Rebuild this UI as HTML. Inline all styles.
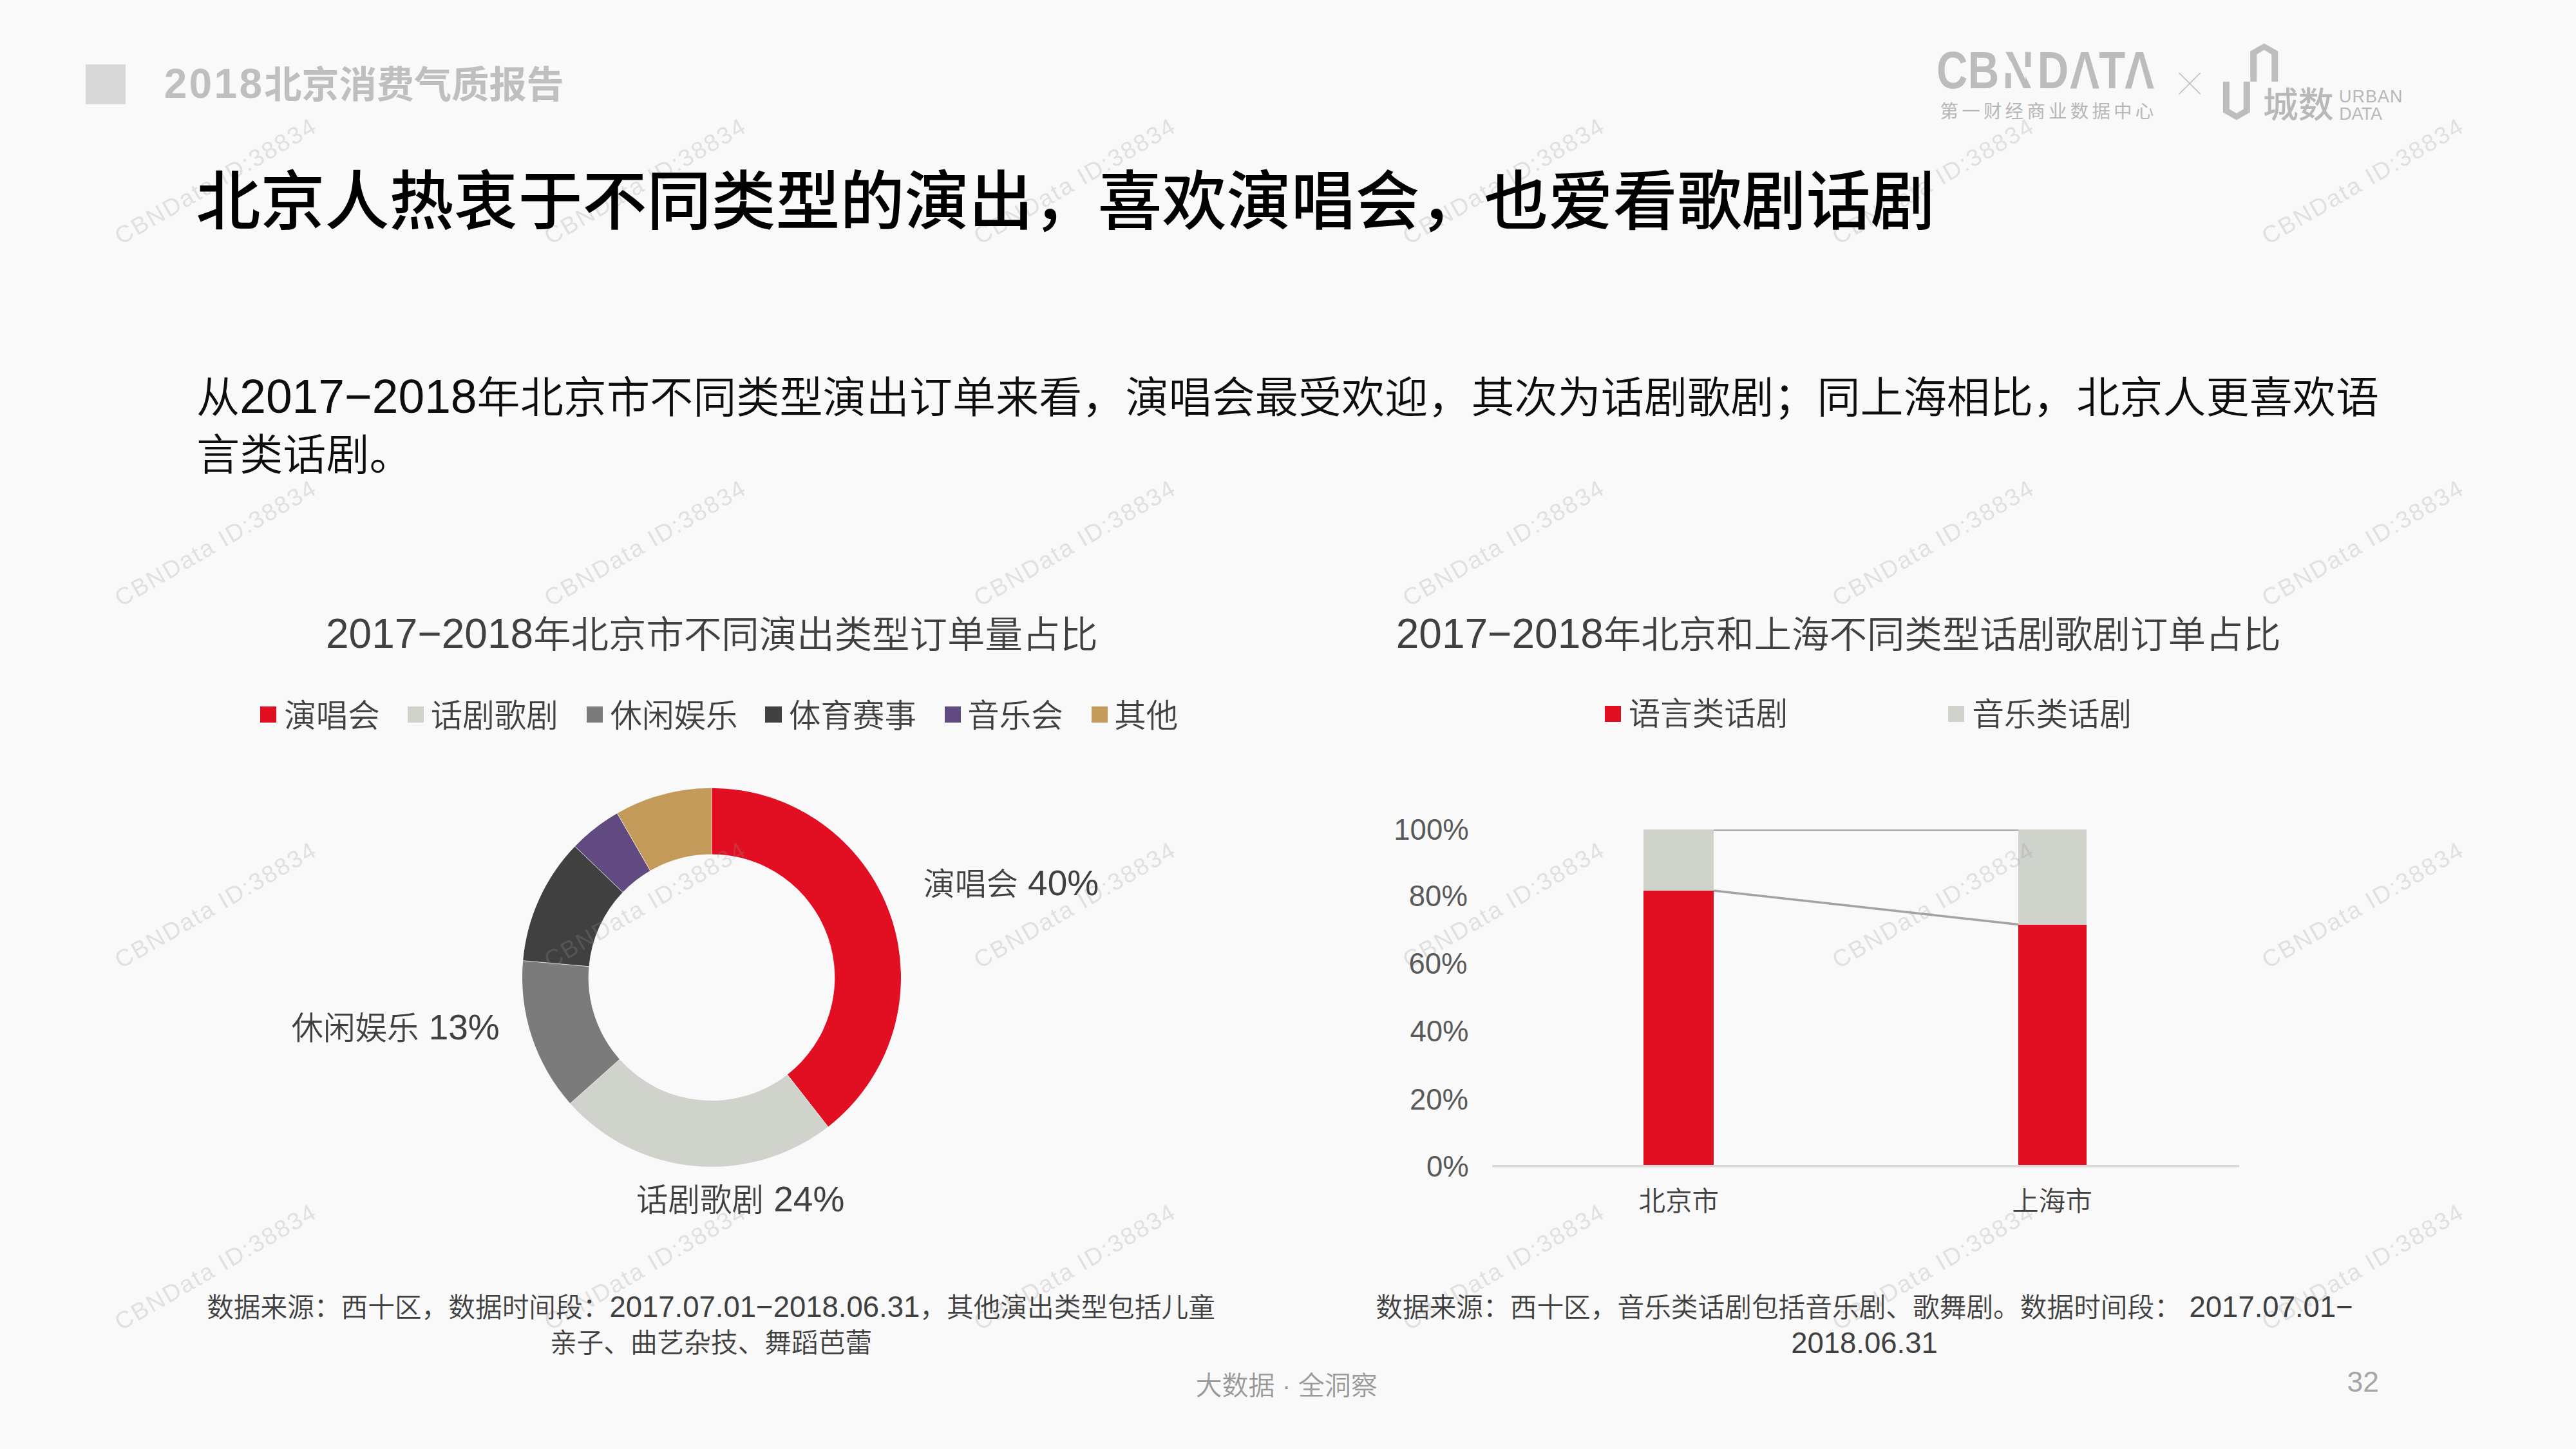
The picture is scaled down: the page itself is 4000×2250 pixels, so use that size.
<!DOCTYPE html>
<html lang="zh-CN">
<head>
<meta charset="utf-8">
<title>2018北京消费气质报告</title>
<style>
html,body{margin:0;padding:0;}
body{width:4000px;height:2250px;position:relative;overflow:hidden;background:#f9f9f9;
  font-family:"Liberation Sans","Noto Sans CJK SC",sans-serif;color:#000;}
.t{position:absolute;white-space:nowrap;line-height:1.2;}
.l{font-size:calc(var(--lat) * 1em);}
.wm{position:absolute;font-family:"Liberation Sans",sans-serif;font-weight:normal;font-size:37px;letter-spacing:2.4px;line-height:1;color:rgba(150,150,150,0.26);transform-origin:0 0;transform:rotate(-30deg);white-space:nowrap;}
.sh{position:absolute;}
.ln{font-weight:normal;}

</style>
</head>
<body>
<div class="sh" style="left:133px;top:100px;width:62px;height:62px;background:#d9d9d9;"></div>
<div class="sh" style="left:404px;top:1096.5px;width:25px;height:25px;background:#e20e21;"></div>
<div class="sh" style="left:633px;top:1096.5px;width:25px;height:25px;background:#cfd3cb;"></div>
<div class="sh" style="left:910.5px;top:1096.5px;width:25px;height:25px;background:#7b7b7b;"></div>
<div class="sh" style="left:1187.5px;top:1096.5px;width:26px;height:25px;background:#404040;"></div>
<div class="sh" style="left:1467px;top:1096.5px;width:25px;height:25px;background:#604a80;"></div>
<div class="sh" style="left:1694.5px;top:1096.5px;width:25px;height:25px;background:#c39a5a;"></div>
<div class="sh" style="left:2492px;top:1096px;width:25px;height:25px;background:#e20e21;"></div>
<div class="sh" style="left:3025px;top:1096px;width:25px;height:25px;background:#cfd3cb;"></div>
<svg class="sh" style="left:0;top:0" width="4000" height="2250" viewBox="0 0 4000 2250">
<path fill="#e20e21" d="M1105.00 1223.80A294.00 294.00 0 0 1 1285.80 1749.63L1222.64 1668.65A191.30 191.30 0 0 0 1105.00 1326.50Z"/>
<path fill="#cfd3cb" d="M1285.80 1749.63A294.00 294.00 0 0 1 885.49 1713.38L962.17 1645.06A191.30 191.30 0 0 0 1222.64 1668.65Z"/>
<path fill="#7b7b7b" d="M885.49 1713.38A294.00 294.00 0 0 1 812.16 1491.67L914.46 1500.79A191.30 191.30 0 0 0 962.17 1645.06Z"/>
<path fill="#404040" d="M812.16 1491.67A294.00 294.00 0 0 1 892.80 1314.31L966.93 1385.39A191.30 191.30 0 0 0 914.46 1500.79Z"/>
<path fill="#604a80" d="M892.80 1314.31A294.00 294.00 0 0 1 958.44 1262.93L1009.64 1351.96A191.30 191.30 0 0 0 966.93 1385.39Z"/>
<path fill="#c39a5a" d="M958.44 1262.93A294.00 294.00 0 0 1 1105.00 1223.80L1105.00 1326.50A191.30 191.30 0 0 0 1009.64 1351.96Z"/>
<line x1="1105.00" y1="1327.50" x2="1105.00" y2="1222.80" stroke="#f9f9f9" stroke-width="0.80"/>
<line x1="1222.03" y1="1667.86" x2="1286.42" y2="1750.42" stroke="#f9f9f9" stroke-width="0.80"/>
<line x1="962.91" y1="1644.39" x2="884.74" y2="1714.04" stroke="#f9f9f9" stroke-width="0.80"/>
<line x1="915.45" y1="1500.88" x2="811.17" y2="1491.58" stroke="#f9f9f9" stroke-width="0.80"/>
<line x1="967.65" y1="1386.09" x2="892.08" y2="1313.62" stroke="#f9f9f9" stroke-width="0.80"/>
<line x1="1010.14" y1="1352.83" x2="957.95" y2="1262.07" stroke="#f9f9f9" stroke-width="0.80"/>
<rect x="2317" y="1809" width="1160" height="3.5" fill="#d9d9d9"/>
<rect x="2552" y="1383" width="109" height="426" fill="#e20e21"/>
<rect x="2552" y="1288" width="109" height="95" fill="#cfd3cb"/>
<rect x="3134" y="1436" width="106" height="373" fill="#e20e21"/>
<rect x="3134" y="1288" width="106" height="148" fill="#cfd3cb"/>
<line x1="2661" y1="1289" x2="3134" y2="1289" stroke="#a5a5a5" stroke-width="2"/>
<line x1="2661" y1="1383" x2="3134" y2="1435.5" stroke="#a3a3a3" stroke-width="3.5"/>
</svg>

<svg class="sh" style="left:0;top:0" width="4000" height="230" viewBox="0 0 4000 230">
<text font-family="Liberation Sans" font-weight="bold" font-size="80.8" fill="#bcbcbc" transform="scale(0.83,1)" x="3622.9 3681.6 3746.4 3811.7 3871.1 3926.9 3973.5" y="136.8">CBNDATA</text>
<g fill="#f9f9f9">
<polygon points="3230.8,113.5 3243.2,113.5 3246.4,123.6 3228,123.6"/>
<polygon points="3315.8,113.5 3328.2,113.5 3331.4,123.6 3313,123.6"/>
<polygon points="3112.5,81.5 3114.8,81.5 3123.6,98.8 3123.6,113.6 3112.5,113.6"/>
<polygon points="3144.4,104 3154.5,104 3154.5,137.5 3144.4,117"/>
</g>
<line x1="3383.6" y1="113.1" x2="3416.7" y2="146.2" stroke="#c4c4c4" stroke-width="1.8"/>
<line x1="3416.7" y1="113.1" x2="3383.6" y2="146.2" stroke="#c4c4c4" stroke-width="1.8"/>
<path fill="#bdbdbd" d="M3451.9 126.8 H3461.9 V169.5 L3472.8 176 L3483.8 169.5 V126.8 H3493.8 V174.5 L3472.8 186.5 L3451.9 174.5 Z"/>
<path fill="#bdbdbd" d="M3494.2 126.8 V79.5 L3515.8 67.5 L3537.3 79.5 V126.8 H3527.3 V84.5 L3515.8 77.5 L3504.3 84.5 V126.8 Z"/>
</svg>

<div class="wm" style="left:172.3px;top:353.5px">CBNData ID:38834</div>
<div class="wm" style="left:839.0px;top:353.5px">CBNData ID:38834</div>
<div class="wm" style="left:1505.7px;top:353.5px">CBNData ID:38834</div>
<div class="wm" style="left:2172.4px;top:353.5px">CBNData ID:38834</div>
<div class="wm" style="left:2839.1px;top:353.5px">CBNData ID:38834</div>
<div class="wm" style="left:3505.8px;top:353.5px">CBNData ID:38834</div>
<div class="wm" style="left:172.3px;top:915.6px">CBNData ID:38834</div>
<div class="wm" style="left:839.0px;top:915.6px">CBNData ID:38834</div>
<div class="wm" style="left:1505.7px;top:915.6px">CBNData ID:38834</div>
<div class="wm" style="left:2172.4px;top:915.6px">CBNData ID:38834</div>
<div class="wm" style="left:2839.1px;top:915.6px">CBNData ID:38834</div>
<div class="wm" style="left:3505.8px;top:915.6px">CBNData ID:38834</div>
<div class="wm" style="left:172.3px;top:1477.7px">CBNData ID:38834</div>
<div class="wm" style="left:839.0px;top:1477.7px">CBNData ID:38834</div>
<div class="wm" style="left:1505.7px;top:1477.7px">CBNData ID:38834</div>
<div class="wm" style="left:2172.4px;top:1477.7px">CBNData ID:38834</div>
<div class="wm" style="left:2839.1px;top:1477.7px">CBNData ID:38834</div>
<div class="wm" style="left:3505.8px;top:1477.7px">CBNData ID:38834</div>
<div class="wm" style="left:172.3px;top:2039.8px">CBNData ID:38834</div>
<div class="wm" style="left:839.0px;top:2039.8px">CBNData ID:38834</div>
<div class="wm" style="left:1505.7px;top:2039.8px">CBNData ID:38834</div>
<div class="wm" style="left:2172.4px;top:2039.8px">CBNData ID:38834</div>
<div class="wm" style="left:2839.1px;top:2039.8px">CBNData ID:38834</div>
<div class="wm" style="left:3505.8px;top:2039.8px">CBNData ID:38834</div>
<div class="t" id="hdr" style="left:254.7px;top:91.5px;font-size:58.20px;color:#bfbfbf;font-weight:bold;--lat:1.100"><span class="l" style="letter-spacing:3.30px">2018</span>北京消费气质报告</div>
<div class="t" id="title" style="left:304.4px;top:253.1px;font-size:100.00px;color:#000;font-weight:500;--lat:1.100">北京人热衷于不同类型的演出，喜欢演唱会，也爱看歌剧话剧</div>
<div class="t" id="para" style="left:305.1px;top:571.7px;font-size:67.14px;color:#0d0d0d;font-weight:350;line-height:89.0px;--lat:1.090">从<span class="l">2017−2018</span>年北京市不同类型演出订单来看，演唱会最受欢迎，其次为话剧歌剧；同上海相比，北京人更喜欢语<br>言类话剧。</div>
<div class="t" id="ct1" style="left:506.0px;top:946.1px;font-size:58.45px;color:#404040;font-weight:350;--lat:1.095"><span class="l">2017−2018</span>年北京市不同演出类型订单量占比</div>
<div class="t" id="ct2" style="left:2167.7px;top:946.1px;font-size:58.45px;color:#404040;font-weight:350;--lat:1.095"><span class="l">2017−2018</span>年北京和上海不同类型话剧歌剧订单占比</div>
<div class="t" id="lg1" style="left:441.3px;top:1081.5px;font-size:49.50px;color:#404040;font-weight:350;--lat:1.100">演唱会</div>
<div class="t" id="lg2" style="left:668.8px;top:1081.5px;font-size:49.50px;color:#404040;font-weight:350;--lat:1.100">话剧歌剧</div>
<div class="t" id="lg3" style="left:947.4px;top:1081.5px;font-size:49.50px;color:#404040;font-weight:350;--lat:1.100">休闲娱乐</div>
<div class="t" id="lg4" style="left:1225.1px;top:1081.5px;font-size:49.50px;color:#404040;font-weight:350;--lat:1.100">体育赛事</div>
<div class="t" id="lg5" style="left:1502.2px;top:1081.5px;font-size:49.50px;color:#404040;font-weight:350;--lat:1.100">音乐会</div>
<div class="t" id="lg6" style="left:1730.2px;top:1081.5px;font-size:49.50px;color:#404040;font-weight:350;--lat:1.100">其他</div>
<div class="t" id="lg7" style="left:2528.8px;top:1078.5px;font-size:49.50px;color:#404040;font-weight:350;--lat:1.100">语言类话剧</div>
<div class="t" id="lg8" style="left:3062.4px;top:1079.5px;font-size:49.50px;color:#404040;font-weight:350;--lat:1.100">音乐类话剧</div>
<div class="t" id="dl1" style="left:1433.8px;top:1339.0px;font-size:49.00px;color:#404040;font-weight:350;--lat:1.122">演唱会<span class="l"> 40%</span></div>
<div class="t" id="dl2" style="left:452.4px;top:1561.6px;font-size:49.50px;color:#404040;font-weight:350;--lat:1.111">休闲娱乐<span class="l"> 13%</span></div>
<div class="t" id="dl3" style="left:988.0px;top:1828.9px;font-size:49.50px;color:#404040;font-weight:350;--lat:1.111">话剧歌剧<span class="l"> 24%</span></div>
<div class="t" id="y100" style="left:2164.3px;top:1261.6px;font-size:45.50px;color:#595959;font-weight:350;--lat:1.000"><span class="l">100%</span></div>
<div class="t" id="y80" style="left:2187.8px;top:1365.2px;font-size:45.50px;color:#595959;font-weight:350;--lat:1.000"><span class="l">80%</span></div>
<div class="t" id="y60" style="left:2187.4px;top:1470.2px;font-size:45.50px;color:#595959;font-weight:350;--lat:1.000"><span class="l">60%</span></div>
<div class="t" id="y40" style="left:2189.4px;top:1574.8px;font-size:45.50px;color:#595959;font-weight:350;--lat:1.000"><span class="l">40%</span></div>
<div class="t" id="y20" style="left:2189.0px;top:1680.8px;font-size:45.50px;color:#595959;font-weight:350;--lat:1.000"><span class="l">20%</span></div>
<div class="t" id="y0" style="left:2215.0px;top:1785.0px;font-size:45.50px;color:#595959;font-weight:350;--lat:1.000"><span class="l">0%</span></div>
<div class="t" id="xl1" style="left:2544.4px;top:1841.2px;font-size:41.50px;color:#404040;font-weight:350;--lat:1.100">北京市</div>
<div class="t" id="xl2" style="left:3124.2px;top:1841.2px;font-size:41.50px;color:#404040;font-weight:350;--lat:1.100">上海市</div>
<div class="t" id="n1" style="left:254.0px;top:2002.0px;font-size:41.70px;color:#404040;font-weight:350;line-height:55.0px;width:1700.0px;text-align:center;--lat:1.091">数据来源：西十区，数据时间段：<span class="l">2017.07.01−2018.06.31</span>，其他演出类型包括儿童<br>亲子、曲艺杂技、舞蹈芭蕾</div>
<div class="t" id="n2" style="left:2045.0px;top:2002.2px;font-size:41.70px;color:#404040;font-weight:350;line-height:55.0px;width:1700.0px;text-align:center;--lat:1.091">数据来源：西十区，音乐类话剧包括音乐剧、歌舞剧。数据时间段：<span class="l"> 2017.07.01−</span><br><span class="l">2018.06.31</span></div>
<div class="t" id="foot" style="left:1856.4px;top:2127.7px;font-size:41.00px;color:#999999;font-weight:350;--lat:1.100">大数据 · 全洞察</div>
<div class="t" id="pg" style="left:3644.5px;top:2119.4px;font-size:44.50px;color:#a6a6a6;font-weight:350;--lat:1.000"><span class="l">32</span></div>
<div class="t" id="cbn2" style="left:3012.5px;top:155.6px;font-size:28.50px;color:#b8b8b8;font-weight:400;letter-spacing:5.20px;--lat:1.000">第一财经商业数据中心</div>
<div class="t" id="cs" style="left:3513.7px;top:130.3px;font-size:55.00px;color:#b8b8b8;font-weight:500;--lat:1.000">城数</div>
<div class="t" id="urban" style="left:3632.0px;top:133.7px;font-size:27.00px;color:#b8b8b8;font-weight:400;letter-spacing:1.00px;--lat:1.000"><span class="l">URBAN</span></div>
<div class="t" id="udata" style="left:3632.3px;top:160.5px;font-size:27.00px;color:#b8b8b8;font-weight:400;letter-spacing:-0.40px;--lat:1.000"><span class="l">DATA</span></div>
</body>
</html>
